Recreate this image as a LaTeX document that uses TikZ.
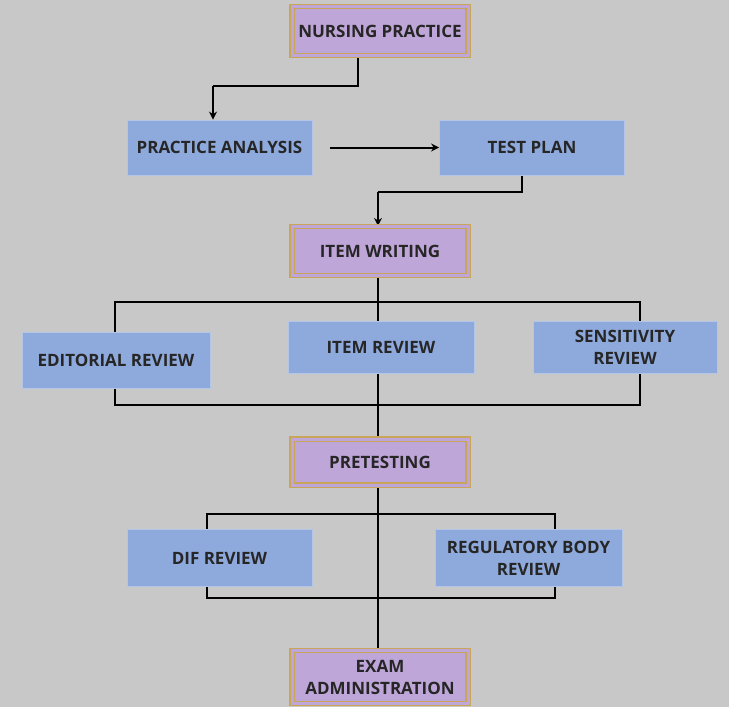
\documentclass[tikz,border=0pt]{standalone}
\usepackage{fontspec}
\setmainfont{Open Sans}
\usetikzlibrary{backgrounds,arrows.meta}
\definecolor{bggray}{HTML}{C8C8C8}
\definecolor{lav}{HTML}{BFA6D8}
\definecolor{gold}{HTML}{C9A55A}
\definecolor{bluefill}{HTML}{8EAADC}
\definecolor{blueedge}{HTML}{B4C6E7}
\tikzset{
  x=1pt, y=-1pt,
  lbl/.style={font=\bfseries\fontsize{17}{22}\selectfont, text=black!85, align=center, inner sep=0pt},
  purplebox/.style={lbl, rectangle, fill=lav, draw=gold, double=lav, double distance=3pt, line width=1.2pt},
  bluebox/.style={lbl, rectangle, fill=bluefill, draw=blueedge, line width=0.8pt},
  conn/.style={line width=2pt, black},
  arr/.style={conn, -{Stealth[length=8pt,width=8pt]}}
}
\begin{document}
\begin{tikzpicture}
\useasboundingbox (0,0) rectangle (729,707);
\node[purplebox, minimum width=176pt, minimum height=49pt] (np) at (380,31) {NURSING PRACTICE};
\node[bluebox, minimum width=185pt, minimum height=55pt] (pa) at (219.5,147.5) {PRACTICE ANALYSIS};
\node[bluebox, minimum width=185pt, minimum height=55pt] (tp) at (532,147.5) {TEST PLAN};
\node[purplebox, minimum width=176pt, minimum height=49pt] (iw) at (380,251) {ITEM WRITING};
\node[bluebox, minimum width=188pt, minimum height=56pt] (er) at (116,360) {EDITORIAL REVIEW};
\node[bluebox, minimum width=186pt, minimum height=52pt] (ir) at (381,347) {ITEM REVIEW};
\node[bluebox, minimum width=184pt, minimum height=52pt] (sr) at (625,347) {SENSITIVITY\\REVIEW};
\node[purplebox, minimum width=176pt, minimum height=46pt] (pt) at (380,462) {PRETESTING};
\node[bluebox, minimum width=185pt, minimum height=57pt] (dif) at (219.5,558) {DIF REVIEW};
\node[bluebox, minimum width=187pt, minimum height=57pt] (rb) at (528.5,558) {REGULATORY BODY\\REVIEW};
\node[purplebox, minimum width=176pt, minimum height=53pt] (ea) at (380,677) {EXAM\\ADMINISTRATION};
\coordinate (k1) at (358,86);
\coordinate (k2) at (213,86);
\coordinate (k3) at (522,192);
\coordinate (k4) at (378,192);
\coordinate (f1) at (115,302);
\coordinate (f2) at (640,405);
\coordinate (fm) at (378,302);
\coordinate (fb) at (378,405);
\coordinate (g1) at (207,514);
\coordinate (g2) at (555,598);
\coordinate (gm) at (378,514);
\begin{pgfonlayer}{background}
\fill[bggray] (0,0) rectangle (729,707);
\draw[conn] (np.south -| k1) -- (k1) -- (k2);
\draw[arr] (k2) -- (k2 |- pa.north);
\draw[arr, shorten <=18pt] (pa.east) -- (tp.west);
\draw[conn] (tp.south -| k3) -- (k3) -- (k4);
\draw[arr] (k4) -- (k4 |- iw.north);
\draw[conn] (iw.south -| fm) -- (fm);
\draw[conn] (f1) rectangle (f2);
\draw[conn] (fm) -- (fb) -- (fb |- pt.north);
\draw[conn] (pt.south -| gm) -- (gm);
\draw[conn] (g1) rectangle (g2);
\draw[conn] (gm) -- (gm |- ea.north);
\end{pgfonlayer}
\end{tikzpicture}
\end{document}
